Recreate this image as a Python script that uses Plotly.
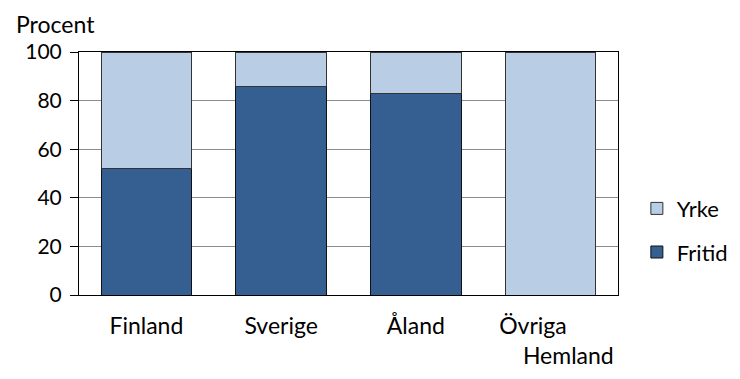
import plotly.graph_objects as go

categories = ["Finland", "Sverige", "Åland", "Övriga\u00a0\u00a0\u00a0\u00a0\u00a0\u00a0<br>\u00a0\u00a0\u00a0\u00a0\u00a0\u00a0Hemland"]
fritid = [52, 86, 83, 0]
yrke = [48, 14, 17, 100]
yticks = [0, 20, 40, 60, 80, 100]

FONT = "Lato, Open Sans, sans-serif"

fig = go.Figure()
fig.add_trace(go.Bar(x=categories, y=fritid, name="Fritid", legendgroup="f", legendrank=2,
                     marker=dict(color="#355F91", line=dict(color="#111111", width=1))))
fig.add_trace(go.Bar(x=categories, y=yrke, name="Yrke", legendgroup="y", legendrank=1,
                     marker=dict(color="#B9CDE5", line=dict(color="#333333", width=1))))

fig.update_layout(
    barmode="stack",
    bargap=0.33,
    width=740, height=379,
    margin=dict(l=71, r=130, t=44, b=92),
    plot_bgcolor="white", paper_bgcolor="white",
    font=dict(family=FONT, size=21, color="#000000"),
    showlegend=True,
    legend=dict(x=1.035, y=0.265, xanchor="left", yanchor="middle",
                traceorder="grouped", tracegroupgap=12,
                font=dict(size=22), itemwidth=30),
    annotations=[dict(text="Procent", x=0, y=1, xref="paper", yref="paper",
                      xanchor="center", yanchor="middle", xshift=-24, yshift=28,
                      showarrow=False, font=dict(size=23, family=FONT))],
)
fig.update_yaxes(range=[0, 100], tickvals=yticks, showgrid=True, gridcolor="#8c8c8c",
                 gridwidth=1, showline=True, linecolor="black", linewidth=1,
                 ticks="outside", ticklen=8, tickcolor="black", mirror=True,
                 tickfont=dict(size=21), zeroline=False, automargin=False,
                 ticklabelstandoff=4)
fig.update_xaxes(showline=True, linecolor="black", linewidth=1, mirror=True,
                 ticks="", tickfont=dict(size=23), automargin=False,
                 ticklabelstandoff=10)

fig.write_html("out.html")
